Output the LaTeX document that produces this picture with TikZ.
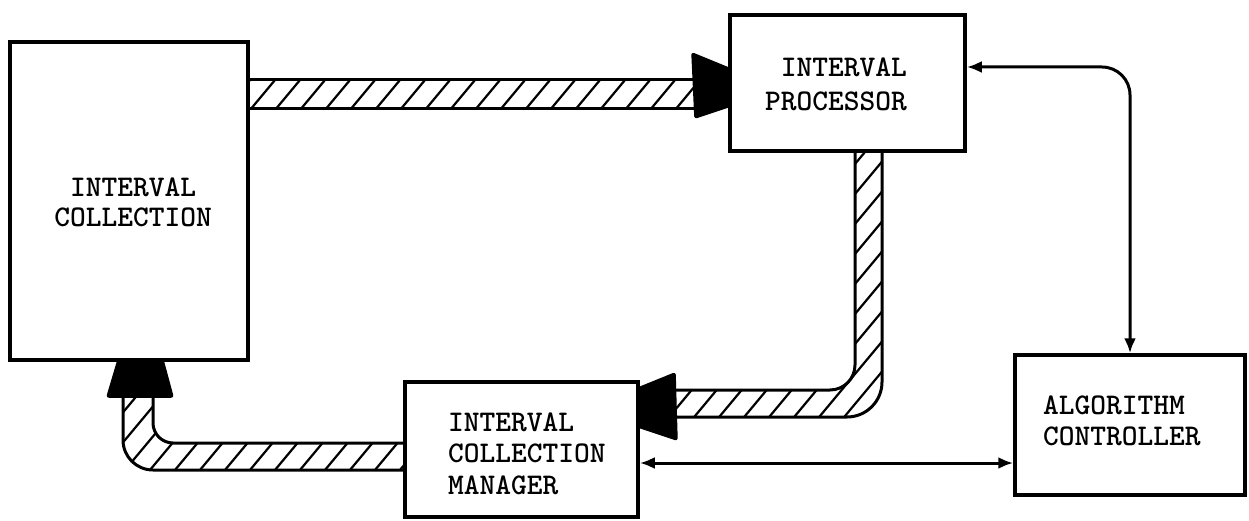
\documentclass[tikz,border=0pt]{standalone}
\usetikzlibrary{arrows.meta}
\begin{document}
\begin{tikzpicture}[x=1pt,y=-1pt,
  box/.style={draw, line width=3.5pt, inner sep=0pt},
  lbl/.style={font=\ttfamily\bfseries\fontsize{30}{31.5}\selectfont, inner sep=0pt},
  bandedge/.style={line width=3pt, line join=round},
  hatchline/.style={line width=2.2pt},
  headfill/.style={fill=black, draw=black, line width=1.5pt, line join=round, rounded corners=2pt},
  conn/.style={line width=3pt, {Latex[length=15pt,width=12pt]}-{Latex[length=15pt,width=12pt]}}]

% page frame
\fill[white] (0,0) rectangle (1249,521);
\useasboundingbox (0,0) rectangle (1249,521);

% blocks
\node[box, minimum width=238pt, minimum height=318pt] (coll) at (129,201) {};
\node[box, minimum width=235pt, minimum height=136pt] (proc) at (847.5,83) {};
\node[box, minimum width=233pt, minimum height=135pt] (mgr)  at (521.5,449.5) {};
\node[box, minimum width=230pt, minimum height=140pt] (ctrl) at (1130,425) {};

% block captions
\node[lbl, align=center, font=\ttfamily\bfseries\fontsize{30}{30}\selectfont] (collText) at (133,202) {INTERVAL\\COLLECTION};
\node[lbl, align=right, anchor=east, font=\ttfamily\bfseries\fontsize{30}{34}\selectfont] (procText) at (907,84) {INTERVAL\\PROCESSOR};
\node[lbl, align=left, anchor=west] (mgrText) at (448,453.5) {INTERVAL\\COLLECTION\\MANAGER};
\node[lbl, align=left, anchor=west, font=\ttfamily\bfseries\fontsize{30}{31}\selectfont] (ctrlText) at (1043,420.5) {ALGORITHM\\CONTROLLER};

% hatching inside the three data buses
\begin{scope}
  \clip (248,80) -- (700,80) -- (700,109) -- (248,109) -- cycle
        (855,150) -- (855,365) .. controls (855,378.8) and (843.8,390) .. (830,390)
          -- (660,390) -- (660,417) -- (847,417)
          .. controls (866.3,417) and (882,401.3) .. (882,382) -- (882,150) -- cycle
        (405,443) -- (173,443) .. controls (162,443) and (153,434) .. (153,423)
          -- (153,385) -- (123,385) -- (123,440)
          .. controls (123,456.6) and (136.4,470) .. (153,470) -- (405,470) -- cycle;
  \foreach \i in {-450,-425,...,1300}
    \draw[hatchline] (\i,530) -- ++(450,-540);
\end{scope}

% bus outlines
\draw[bandedge] (248,80) -- (700,80) (700,109) -- (248,109);
\draw[bandedge] (855,150) -- (855,365) .. controls (855,378.8) and (843.8,390) .. (830,390)
          -- (660,390)
          (660,417) -- (847,417)
          .. controls (866.3,417) and (882,401.3) .. (882,382) -- (882,150);
\draw[bandedge] (405,443) -- (173,443) .. controls (162,443) and (153,434) .. (153,423)
          -- (153,385)
          (123,385) -- (123,440)
          .. controls (123,456.6) and (136.4,470) .. (153,470) -- (405,470);

% bus heads
\filldraw[headfill] (692,53) -- (731,69) -- (731,106) -- (695,118) -- cycle;
\filldraw[headfill] (675,373) -- (638,388) -- (638,427) -- (677,440) -- cycle;
\filldraw[headfill] (118,360) -- (163,360) -- (173,397) -- (107,397) -- cycle;

% control links
\coordinate (pcLevel) at (0,67);
\coordinate (mcLevel) at (0,463);
\draw[conn, rounded corners=28pt] (proc.east |- pcLevel) -| (ctrl.north);
\draw[conn] (mgr.east |- mcLevel) -- (ctrl.west |- mcLevel);
\end{tikzpicture}
\end{document}
